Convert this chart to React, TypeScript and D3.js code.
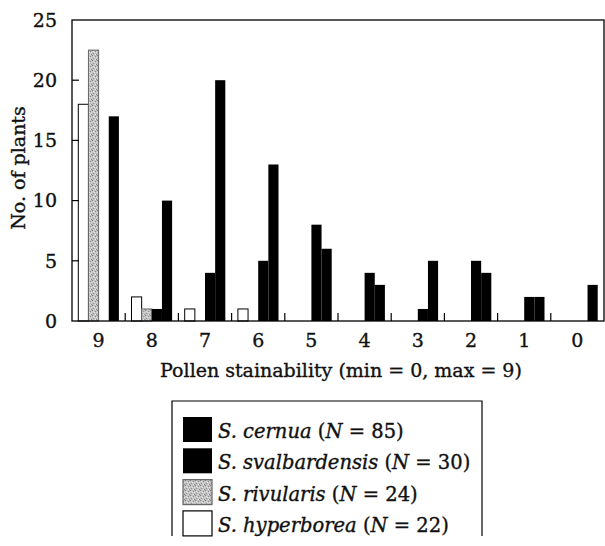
import React from "react";
import * as d3 from "d3";

const categories = ["9", "8", "7", "6", "5", "4", "3", "2", "1", "0"];
const hyperborea = [18, 2, 1, 1, 0, 0, 0, 0, 0, 0];
const rivularis = [22.5, 1, 0, 0, 0, 0, 0, 0, 0, 0];
const svalbardensis = [0, 1, 4, 5, 8, 4, 1, 5, 2, 0];
const cernua = [17, 10, 20, 13, 6, 3, 5, 4, 2, 3];
const yTicks = [0, 5, 10, 15, 20, 25];

const seriesKeys = ["hyperborea", "rivularis", "svalbardensis", "cernua"];
const seriesValues: Record<string, number[]> = { hyperborea, rivularis, svalbardensis, cernua };

const legendItems = [
  { key: "cernua", name: "S. cernua", n: "85" },
  { key: "svalbardensis", name: "S. svalbardensis", n: "30" },
  { key: "rivularis", name: "S. rivularis", n: "24" },
  { key: "hyperborea", name: "S. hyperborea", n: "22" },
];

const FONT = "'DejaVu Serif', 'Liberation Serif', serif";

export default function App() {
  const W = 605, H = 546;
  const left = 72, right = 604, top = 20, bottom = 321;
  const x = d3.scaleBand<string>().domain(categories).range([left, right]).padding(0);
  const xs = d3.scaleBand<string>().domain(seriesKeys).range([0, x.bandwidth()]).paddingInner(0).paddingOuter(0.62);
  const y = d3.scaleLinear().domain([0, 25]).range([bottom, top]);

  const fillFor = (k: string) =>
    k === "hyperborea" ? "#ffffff" : k === "rivularis" ? "url(#stipple)" : "#000000";
  const strokeFor = (k: string) => (k === "hyperborea" ? "#000" : k === "rivularis" ? "#666" : "none");

  const boundaries = categories.slice(1).map((c) => x(c)!);
  const txt = { fill: "#111", stroke: "#111", strokeWidth: 0.35 };

  return (
    <svg width={W} height={H} style={{ position: "absolute", left: 0, top: 0, background: "#fff" }} fontFamily={FONT}>
      <defs>
        <pattern id="stipple" width="5" height="5" patternUnits="userSpaceOnUse">
          <rect width="5" height="5" fill="#c2c2c2" />
          <rect x="0" y="0" width="1" height="1" fill="#808080" />
          <rect x="3" y="1" width="1" height="1" fill="#8c8c8c" />
          <rect x="1" y="3" width="1" height="1" fill="#909090" />
          <rect x="4" y="4" width="1" height="1" fill="#858585" />
          <rect x="2" y="2" width="1" height="1" fill="#e6e6e6" />
          <rect x="4" y="2" width="1" height="1" fill="#dcdcdc" />
          <rect x="1" y="1" width="1" height="1" fill="#e0e0e0" />
          <rect x="3" y="4" width="1" height="1" fill="#e6e6e6" />
        </pattern>
      </defs>

      {/* bars */}
      {categories.map((c, i) => (
        <g key={c} transform={`translate(${x(c)},0)`}>
          {seriesKeys.map((k) => {
            const v = seriesValues[k][i];
            if (!v) return null;
            return (
              <rect
                key={k}
                x={xs(k)!}
                y={y(v)}
                width={xs.bandwidth()}
                height={y(0) - y(v)}
                fill={fillFor(k)}
                stroke={strokeFor(k)}
                strokeWidth={1}
              />
            );
          })}
        </g>
      ))}

      {/* frame */}
      <rect x={left} y={top} width={right - left} height={bottom - top} fill="none" stroke="#000" strokeWidth={1.3} />

      {/* y ticks */}
      {yTicks.map((t) => (
        <g key={t}>
          {t > 0 && t < 25 && <line x1={left} x2={left + 7} y1={y(t)} y2={y(t)} stroke="#000" strokeWidth={1.2} />}
          <text x={57} y={y(t)} dy="0.36em" textAnchor="end" fontSize={19} {...txt}>
            {t}
          </text>
        </g>
      ))}

      {/* x ticks */}
      {boundaries.map((b, i) => (
        <line key={i} x1={b} x2={b} y1={bottom} y2={bottom - 8} stroke="#000" strokeWidth={1.2} />
      ))}
      {categories.map((c) => (
        <text key={c} x={x(c)! + x.bandwidth() / 2} y={347} textAnchor="middle" fontSize={19} {...txt}>
          {c}
        </text>
      ))}

      {/* axis titles */}
      <text x={341} y={377} textAnchor="middle" fontSize={19} {...txt}>
        Pollen stainability (min = 0, max = 9)
      </text>
      <text transform="translate(25,168) rotate(-90)" textAnchor="middle" fontSize={19} {...txt}>
        No. of plants
      </text>

      {/* legend */}
      <path d="M172,536 V401 H482 V536" fill="none" stroke="#000" strokeWidth={1.2} />
      {legendItems.map((it, i) => {
        const ty = 417 + i * 31.3;
        return (
          <g key={it.key}>
            <rect x={183} y={ty} width={29} height={25} fill={fillFor(it.key)} stroke={it.key === "hyperborea" ? "#000" : it.key === "rivularis" ? "#666" : "none"} strokeWidth={1.2} />
            <text x={218} y={ty + 21} fontSize={19.5} {...txt}>
              <tspan fontStyle="italic">{it.name}</tspan>
              <tspan> (</tspan>
              <tspan fontStyle="italic">N</tspan>
              <tspan> = {it.n})</tspan>
            </text>
          </g>
        );
      })}
    </svg>
  );
}
